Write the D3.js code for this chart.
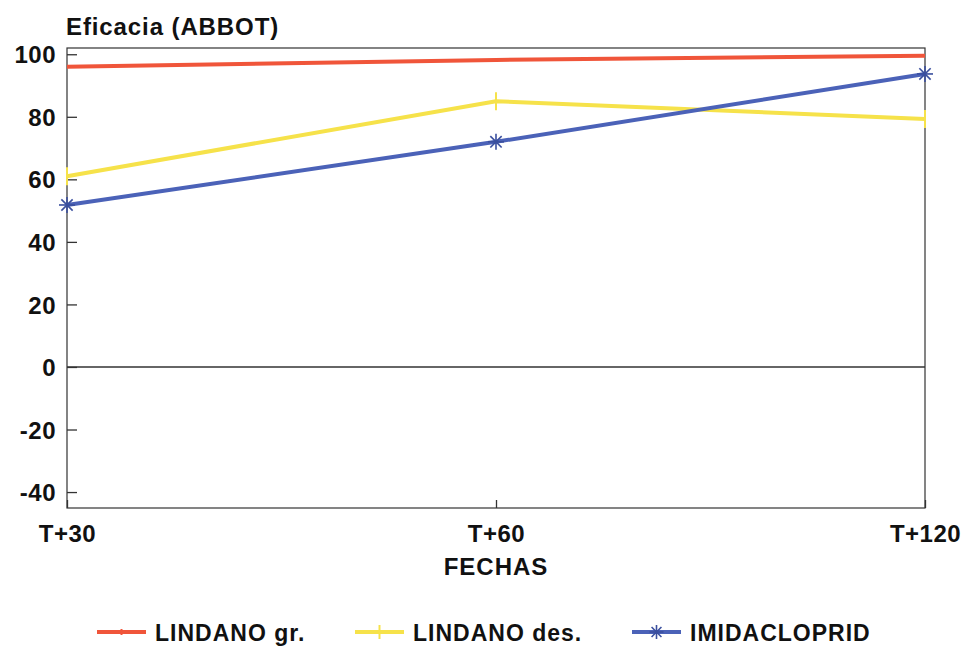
<!DOCTYPE html>
<html>
<head>
<meta charset="utf-8">
<script src="https://cdn.jsdelivr.net/npm/d3@7"></script>
<style>
  html, body { margin: 0; padding: 0; background: #fff; }
  svg text { font-family: "Liberation Sans", Arial, Helvetica, sans-serif; font-weight: bold; fill: #111; }
</style>
</head>
<body>
<svg id="chart" width="964" height="646"></svg>
<script>
const categories = ["T+30", "T+60", "T+120"];
const seriesNames = ["LINDANO gr.", "LINDANO des.", "IMIDACLOPRID"];
const lindanoGr = [96, 98.2, 99.5];
const lindanoDes = [61, 85, 79.3];
const imidacloprid = [51.8, 72, 93.7];
const yTicks = [-40, -20, 0, 20, 40, 60, 80, 100];
const colors = ["#f0553a", "#f6e24a", "#4b62b8"];
const markers = ["none", "plus", "star"];

const series = [lindanoGr, lindanoDes, imidacloprid].map((vals, i) => ({
  name: seriesNames[i], values: vals, color: colors[i], marker: markers[i]
}));

const svg = d3.select("#chart");
const plotLeft = 67, plotRight = 925, plotTop = 48, plotBottom = 508;

const x = d3.scalePoint().domain(categories).range([plotLeft, plotRight]);
const y = d3.scaleLinear().domain([-45.1, 102]).range([plotBottom, plotTop]);

// frame
svg.append("rect")
  .attr("x", plotLeft).attr("y", plotTop)
  .attr("width", plotRight - plotLeft).attr("height", plotBottom - plotTop)
  .attr("fill", "none").attr("stroke", "#333").attr("stroke-width", 1.2);

// zero line
svg.append("line")
  .attr("x1", plotLeft).attr("x2", plotRight)
  .attr("y1", y(0)).attr("y2", y(0))
  .attr("stroke", "#333").attr("stroke-width", 1.4);

// y axis
const yAxis = d3.axisRight(y).tickValues(yTicks).tickSize(10).tickPadding(0).tickFormat(d => String(d));
const gy = svg.append("g").attr("transform", `translate(${plotLeft},0)`).call(yAxis);
gy.select(".domain").remove();
gy.selectAll(".tick line").attr("stroke", "#333").attr("stroke-width", 1.3);
gy.selectAll(".tick text")
  .attr("x", -11).attr("dy", "0.36em")
  .attr("text-anchor", "end")
  .style("font-size", "24px").style("letter-spacing", "0.5px")
  .attr("fill", "#111");

// x axis
const xAxis = d3.axisTop(x).tickSize(8).tickPadding(0);
const gx = svg.append("g").attr("transform", `translate(0,${plotBottom})`).call(xAxis);
gx.select(".domain").remove();
gx.selectAll(".tick line").attr("stroke", "#333").attr("stroke-width", 1.3);
gx.selectAll(".tick text")
  .attr("y", 34).attr("dy", 0)
  .style("font-size", "24px").style("letter-spacing", "0.5px")
  .attr("text-anchor", "middle")
  .attr("fill", "#111");

// titles
svg.append("text").attr("x", 66).attr("y", 35)
  .style("font-size", "24px").style("letter-spacing", "0.9px")
  .text("Eficacia (ABBOT)");
svg.append("text").attr("x", x("T+60")).attr("y", 575)
  .attr("text-anchor", "middle").style("font-size", "24px").style("letter-spacing", "1px")
  .text("FECHAS");

// lines
const line = d3.line().x((d, i) => x(categories[i])).y(d => y(d));
function drawMarker(g, mk, cx, cy, color, size) {
  if (mk === "plus") {
    g.append("line").attr("x1", cx).attr("x2", cx).attr("y1", cy - size).attr("y2", cy + size)
      .attr("stroke", color).attr("stroke-width", 2);
  } else if (mk === "star") {
    const c = "#3a4f9e";
    for (let k = 0; k < 4; k++) {
      const a = k * Math.PI / 4;
      g.append("line")
        .attr("x1", cx - size * Math.cos(a)).attr("x2", cx + size * Math.cos(a))
        .attr("y1", cy - size * Math.sin(a)).attr("y2", cy + size * Math.sin(a))
        .attr("stroke", c).attr("stroke-width", 1.6);
    }
  } else {
    g.append("line").attr("x1", cx).attr("x2", cx).attr("y1", cy - 3).attr("y2", cy + 3)
      .attr("stroke", color).attr("stroke-width", 2);
  }
}

series.forEach(s => {
  const g = svg.append("g");
  g.append("path").datum(s.values)
    .attr("d", line).attr("fill", "none")
    .attr("stroke", s.color).attr("stroke-width", 4)
    .attr("stroke-linejoin", "round");
  s.values.forEach((v, i) => {
    if (s.marker !== "none") drawMarker(g, s.marker, x(categories[i]), y(v), s.color, s.marker === "plus" ? 9 : 8);
  });
});

// legend
const legendItems = [
  { lx: 97, tx: 155 },
  { lx: 355, tx: 413 },
  { lx: 632, tx: 690 }
];
series.forEach((s, i) => {
  const g = svg.append("g");
  const ly = 632;
  const it = legendItems[i];
  g.append("line").attr("x1", it.lx).attr("x2", it.lx + 49)
    .attr("y1", ly).attr("y2", ly)
    .attr("stroke", s.color).attr("stroke-width", 4);
  drawMarker(g, s.marker, it.lx + 24.5, ly, s.color, 7);
  g.append("text").attr("x", it.tx).attr("y", 641)
    .style("font-size", "23px").style("letter-spacing", "1px")
    .text(s.name);
});
</script>
</body>
</html>
